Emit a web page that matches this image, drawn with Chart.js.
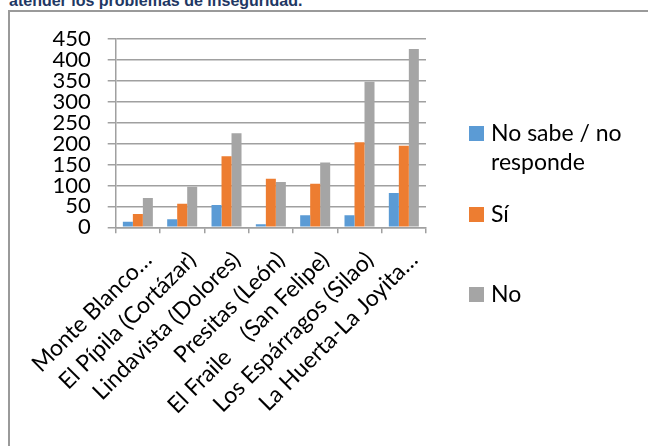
<!DOCTYPE html>
<html>
<head>
<meta charset="utf-8">
<script src="https://cdn.jsdelivr.net/npm/chart.js@4/dist/chart.umd.min.js"></script>
<style>
  html, body { margin: 0; padding: 0; background: #fff; width: 648px; height: 446px; overflow: hidden; }
  #title { position: absolute; left: 9px; top: -8px; font: bold 16px "Liberation Sans", Arial, sans-serif; line-height: 18px; color: #1F3864; white-space: nowrap; }
  #frame { position: absolute; left: 8px; top: 10px; width: 700px; height: 500px; border-left: 2px solid #9a9a9a; border-top: 2px solid #9a9a9a; }
  #c { position: absolute; left: 0; top: 0; }
  .lg { position: absolute; font: 23px Lato, sans-serif; color: #000; line-height: 28.6px; }
  .sw { position: absolute; width: 15px; height: 15px; }
</style>
</head>
<body>
<div id="title">atender los problemas de inseguridad.</div>
<div id="frame"></div>
<canvas id="c" width="648" height="446"></canvas>
<div id="legend"></div>
<script>
const categories = [
  "Monte Blanco…",
  "El Pípila (Cortázar)",
  "Lindavista (Dolores)",
  "Presitas (León)",
  "El Fraile    (San Felipe)",
  "Los Espárragos (Silao)",
  "La Huerta-La Joyita…"
];
const seriesNames = ["No sabe / no responde", "Sí", "No"];
const noSabe = [13, 19, 53, 7, 29, 29, 82];
const si = [32, 56, 170, 116, 104, 203, 195];
const no = [70, 97, 225, 108, 155, 348, 426];
const colors = ["#5B9BD5", "#ED7D31", "#A5A5A5"];
const yTicks = [0, 50, 100, 150, 200, 250, 300, 350, 400, 450];

const seriesValues = [noSabe, si, no];
const datasets = seriesNames.map((n, i) => ({
  label: n,
  data: seriesValues[i],
  backgroundColor: colors[i],
  borderWidth: 0,
  categoryPercentage: 0.677,
  barPercentage: 1.0
}));

const chart = new Chart(document.getElementById('c'), {
  type: 'bar',
  data: { labels: categories, datasets },
  options: {
    responsive: false,
    animation: false,
    devicePixelRatio: 1,
    layout: { padding: { top: 39, right: 222, left: 0, bottom: 0 } },
    plugins: { legend: { display: false }, tooltip: { enabled: false } },
    scales: {
      y: {
        min: 0, max: 450,
        afterBuildTicks: (s) => { s.ticks = yTicks.map(v => ({ value: v })); },
        afterFit: (s) => { s.width = 115.7; },
        ticks: { font: { family: 'Lato', size: 22 }, color: '#000', padding: 17, autoSkip: false, lineHeight: 1 },
        grid: { color: '#a0a0a0', lineWidth: 1.5, tickLength: 8 },
        border: { color: '#a0a0a0', width: 1.5 }
      },
      x: {
        afterFit: (s) => { s.height = 446 - 227.3; },
        ticks: { font: { family: 'Lato', size: 23 }, color: '#000', maxRotation: 45, minRotation: 45, autoSkip: false, labelOffset: 10, padding: 13 },
        grid: { offset: true, drawOnChartArea: false, color: '#a0a0a0', lineWidth: 1.5, tickLength: 6 },
        border: { color: '#a0a0a0', width: 1.5 }
      }
    }
  }
});

// legend built from the dataset definitions
const lg = document.getElementById('legend');
const legendPos = [
  { sq: 125.7, text: 118, w: 150 },
  { sq: 206.7, text: 199, w: 150 },
  { sq: 286.7, text: 279, w: 150 }
];
datasets.forEach((d, i) => {
  const sw = document.createElement('div');
  sw.className = 'sw';
  sw.style.left = '469px';
  sw.style.top = legendPos[i].sq + 'px';
  sw.style.background = d.backgroundColor;
  lg.appendChild(sw);
  const t = document.createElement('div');
  t.className = 'lg';
  t.style.left = '491px';
  t.style.top = legendPos[i].text + 'px';
  t.style.width = legendPos[i].w + 'px';
  t.textContent = d.label;
  lg.appendChild(t);
});
</script>
</body>
</html>
